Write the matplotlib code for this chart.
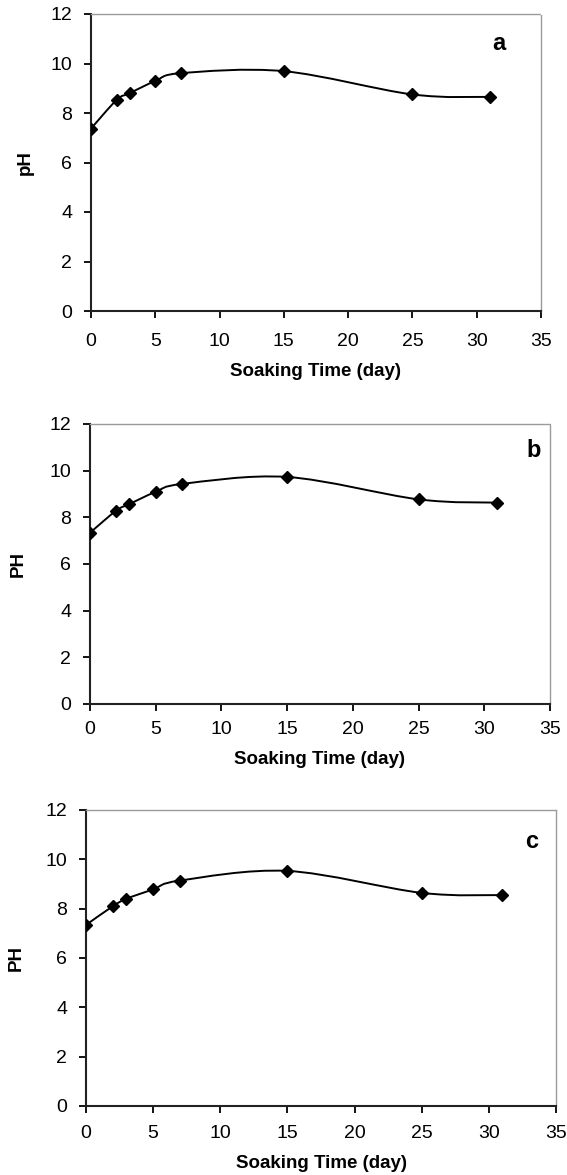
import numpy as np
import matplotlib
matplotlib.use("Agg")
import matplotlib.pyplot as plt
from matplotlib.path import Path
from matplotlib.patches import PathPatch

plt.rcParams["font.family"] = ["Liberation Sans", "DejaVu Sans"]

# soaking time (day) and pH for the three panels
days = [0, 2, 3, 5, 7, 15, 25, 31]
ph_a = [7.37, 8.53, 8.80, 9.29, 9.61, 9.69, 8.75, 8.65]
ph_b = [7.34, 8.29, 8.57, 9.09, 9.43, 9.73, 8.77, 8.63]
ph_c = [7.34, 8.10, 8.40, 8.78, 9.14, 9.53, 8.64, 8.55]

panels = ["a", "b", "c"]
ylabels = ["pH", "PH", "PH"]
xticks = [0, 5, 10, 15, 20, 25, 30, 35]
yticks = [0, 2, 4, 6, 8, 10, 12]

W, H = 567, 1175
# axes boxes in pixels: left, right, top, bottom
BOXES = [(91, 541, 14, 311), (90, 550, 424, 704), (86, 556, 810, 1106)]
LETTER_POS = [(0.907, 0.899), (0.965, 0.907), (0.949, 0.892)]
YLABEL_X = [25, 18, 16]       # pixel x of the y-label centre
XLABEL_Y = [372, 760, 1163]   # pixel y of the x-label centre
XTICK_PAD = [10.5, 7.5, 9.0]


def smooth_path(x, y, t=1/6):
    """Excel-style smoothed line as cubic bezier segments."""
    x = np.asarray(x, float); y = np.asarray(y, float)
    n = len(x)
    verts = [(x[0], y[0])]
    codes = [Path.MOVETO]
    for i in range(n - 1):
        i0 = max(i - 1, 0); i3 = min(i + 2, n - 1)
        c1 = (x[i] + (x[i+1] - x[i0]) * t, y[i] + (y[i+1] - y[i0]) * t)
        c2 = (x[i+1] - (x[i3] - x[i]) * t, y[i+1] - (y[i3] - y[i]) * t)
        verts += [c1, c2, (x[i+1], y[i+1])]
        codes += [Path.CURVE4] * 3
    return Path(verts, codes)


fig = plt.figure(figsize=(W / 100, H / 100), dpi=100)
for (l, r, t, b), vals, letter, ylab, lpos, ylx, xly, xpad in zip(
        BOXES, [ph_a, ph_b, ph_c], panels, ylabels, LETTER_POS,
        YLABEL_X, XLABEL_Y, XTICK_PAD):
    ax = fig.add_axes([l / W, 1 - b / H, (r - l) / W, (b - t) / H])
    ax.add_patch(PathPatch(smooth_path(days, vals), fill=False,
                           edgecolor="black", lw=1.4, zorder=3))
    ax.plot(days, vals, ls="none", marker="D", ms=6.5, color="black", zorder=4)
    ax.set_xlim(0, 35); ax.set_ylim(0, 12)
    ax.set_xticks(xticks); ax.set_yticks(yticks)
    ax.tick_params(direction="out", length=5, width=1.3, labelsize=14,
                   colors="black")
    ax.tick_params(axis="y", pad=8.5)
    ax.tick_params(axis="x", pad=xpad)
    for s in ["left", "bottom"]:
        ax.spines[s].set_linewidth(1.5)
        ax.spines[s].set_color("#222222")
    for s in ["top", "right"]:
        ax.spines[s].set_linewidth(1.0)
        ax.spines[s].set_color("#9a9a9a")
        ax.spines[s].set_linestyle((0, (1, 1)))
    ax.set_xlabel("Soaking Time (day)", fontsize=13.5, fontweight="bold")
    ax.xaxis.set_label_coords(0.5, (b - xly) / (b - t))
    ax.xaxis.label.set_va("center")
    ax.set_ylabel(ylab, fontsize=13.5, fontweight="bold")
    ax.yaxis.set_label_coords((ylx - l) / (r - l), 0.5)
    ax.yaxis.label.set_ha("center")
    ax.yaxis.label.set_va("center")
    ax.text(lpos[0], lpos[1], letter, transform=ax.transAxes, fontsize=17,
            fontweight="bold", ha="center", va="center")

fig.savefig("out.png", dpi=100)
